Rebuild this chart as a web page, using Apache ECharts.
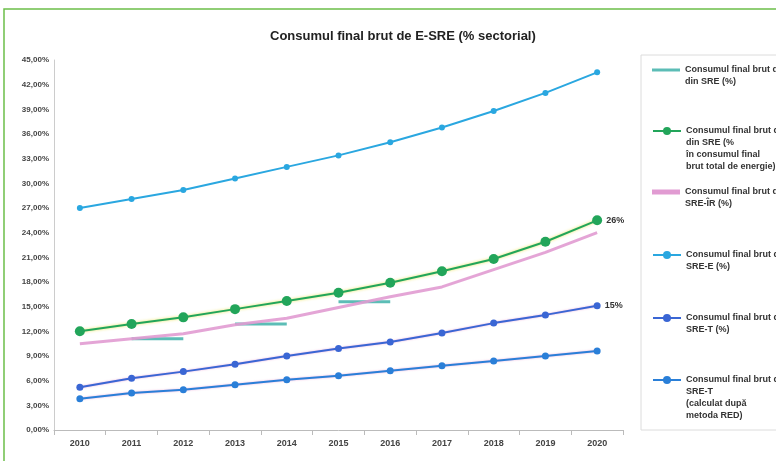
<!DOCTYPE html>
<html>
<head>
<meta charset="utf-8">
<script src="https://cdn.jsdelivr.net/npm/echarts@6/dist/echarts.min.js"></script>
<style>
  html, body { margin: 0; padding: 0; background: #fff; }
  #chart { width: 776px; height: 461px; }
</style>
</head>
<body>
<div id="chart"></div>
<script>
// Years on the category axis
const categories = ['2010', '2011', '2012', '2013', '2014', '2015', '2016', '2017', '2018', '2019', '2020'];

// Sector shares (%)
const electricity = [27.0, 28.1, 29.2, 30.6, 32.0, 33.4, 35.0, 36.8, 38.8, 41.0, 43.5];
const overall = [12.0, 12.9, 13.7, 14.7, 15.7, 16.7, 17.9, 19.3, 20.8, 22.9, 25.5];
const heating = [10.5, 11.1, 11.7, 12.8, 13.6, 14.9, 16.2, 17.4, 19.5, 21.6, 24.0];
const transportRed = [5.2, 6.3, 7.1, 8.0, 9.0, 9.9, 10.7, 11.8, 13.0, 14.0, 15.1];
const transport = [3.8, 4.5, 4.9, 5.5, 6.1, 6.6, 7.2, 7.8, 8.4, 9.0, 9.6];

// Indicative trajectory, given as two-year periods
const trajStart = ['2011', '2013', '2015'];
const trajEnd = ['2012', '2014', '2016'];
const trajValue = [11.1, 12.9, 15.6];

// Value axis ticks
const yMin = 0, yMax = 45, yStep = 3;

const names = {
  traj: 'Consumul final brut de energie\ndin SRE (%)',
  overall: 'Consumul final brut de energie\ndin SRE (%\nîn consumul final\nbrut total de energie)',
  heating: 'Consumul final brut de energie\nSRE-ÎR (%)',
  elec: 'Consumul final brut de energie\nSRE-E (%)',
  trRed: 'Consumul final brut de energie\nSRE-T (%)',
  tr: 'Consumul final brut de energie\nSRE-T\n(calculat după\nmetoda RED)'
};

const colors = {
  traj: '#5cbdb6',
  overall: '#22a55a',
  heating: '#e19bd2',
  elec: '#2aa7e0',
  trRed: '#3a66d4',
  tr: '#2a7fd8'
};

const FONT = 'Liberation Sans, Arial, sans-serif';

function periodData(i) {
  return categories.map(c => (c === trajStart[i] || c === trajEnd[i]) ? trajValue[i] : null);
}

const trajSeries = trajStart.map((s, i) => ({
  name: names.traj,
  type: 'line',
  data: periodData(i),
  connectNulls: false,
  symbol: 'none',
  lineStyle: { color: colors.traj, width: 3 },
  itemStyle: { color: colors.traj },
  z: 1
}));

const endLabel = {
  show: true,
  position: 'right',
  distance: 4,
  fontSize: 9,
  fontWeight: 'bold',
  color: '#333',
  fontFamily: FONT,
  formatter: p => p.dataIndex === categories.length - 1 ? Math.round(p.value) + '%' : ''
};

const series = trajSeries.concat([
  {
    name: names.heating, type: 'line', data: heating,
    symbol: 'none',
    lineStyle: { color: colors.heating, width: 3, opacity: 0.9 },
    itemStyle: { color: colors.heating }, z: 2
  },
  {
    name: names.overall, type: 'line', data: overall,
    symbol: 'circle', symbolSize: 10,
    lineStyle: { color: colors.overall, width: 2, shadowColor: 'rgba(235,225,70,0.9)', shadowBlur: 3 },
    itemStyle: { color: colors.overall },
    label: endLabel, z: 4
  },
  {
    name: names.elec, type: 'line', data: electricity,
    symbol: 'circle', symbolSize: 6,
    lineStyle: { color: colors.elec, width: 2 },
    itemStyle: { color: colors.elec }, z: 3
  },
  {
    name: names.trRed, type: 'line', data: transportRed,
    symbol: 'circle', symbolSize: 7,
    lineStyle: { color: colors.trRed, width: 2, shadowColor: 'rgba(230,140,200,0.7)', shadowBlur: 2 },
    itemStyle: { color: colors.trRed },
    label: endLabel, z: 3
  },
  {
    name: names.tr, type: 'line', data: transport,
    symbol: 'circle', symbolSize: 7,
    lineStyle: { color: colors.tr, width: 2, shadowColor: 'rgba(230,140,200,0.7)', shadowBlur: 2 },
    itemStyle: { color: colors.tr }, z: 3
  }
]);

// One legend block per entry so the marker sits on the first text line
const legendEntries = [
  { key: 'traj', y: 70, bar: 3 },
  { key: 'overall', y: 131 },
  { key: 'heating', y: 192, bar: 5 },
  { key: 'elec', y: 255 },
  { key: 'trRed', y: 318 },
  { key: 'tr', y: 380 }
];
const LH = 12;
const legends = legendEntries.map(e => {
  const n = names[e.key].split('\n').length;
  const h = (2 * n - 1) * LH;
  return {
    orient: 'vertical',
    left: 652,
    top: e.y - h / 2,
    padding: 0,
    itemWidth: 28,
    itemHeight: e.bar ? e.bar : 10,
    itemGap: 0,
    data: [e.bar ? { name: names[e.key], icon: 'rect' } : names[e.key]],
    formatter: name => '\n'.repeat(name.split('\n').length - 1) + name,
    textStyle: { fontSize: 9, lineHeight: LH, color: '#333', fontFamily: FONT, fontWeight: 'bold' }
  };
});

const chart = echarts.init(document.getElementById('chart'), null, { renderer: 'canvas' });
chart.setOption({
  backgroundColor: '#ffffff',
  animation: false,
  title: {
    text: 'Consumul final brut de E-SRE (% sectorial)',
    left: 265,
    top: 25,
    textStyle: { fontSize: 13, fontWeight: 'bold', color: '#222', fontFamily: FONT }
  },
  graphic: [
    { type: 'rect', shape: { x: 4, y: 9, width: 900, height: 600 }, style: { fill: 'none', stroke: '#6cbf4a', lineWidth: 1.5 }, silent: true },
    { type: 'rect', shape: { x: 641, y: 55, width: 200, height: 375 }, style: { fill: 'none', stroke: '#dcdcdc', lineWidth: 1 }, silent: true }
  ],
  legend: legends,
  grid: { left: 54, right: 153, top: 60, bottom: 31, containLabel: false },
  xAxis: {
    type: 'category',
    data: categories,
    boundaryGap: true,
    axisLine: { lineStyle: { color: '#bbb' } },
    axisTick: { show: true, lineStyle: { color: '#bbb' } },
    axisLabel: { fontSize: 9, fontWeight: 'bold', color: '#444', margin: 9, fontFamily: FONT }
  },
  yAxis: {
    type: 'value',
    min: yMin, max: yMax, interval: yStep,
    axisLine: { show: true, lineStyle: { color: '#ccc' } },
    axisTick: { show: false },
    splitLine: { show: false },
    axisLabel: {
      fontSize: 8, fontWeight: 'bold', color: '#444', margin: 5,
      fontFamily: FONT,
      formatter: v => v.toFixed(2).replace('.', ',') + '%'
    }
  },
  series: series
});
</script>
</body>
</html>
